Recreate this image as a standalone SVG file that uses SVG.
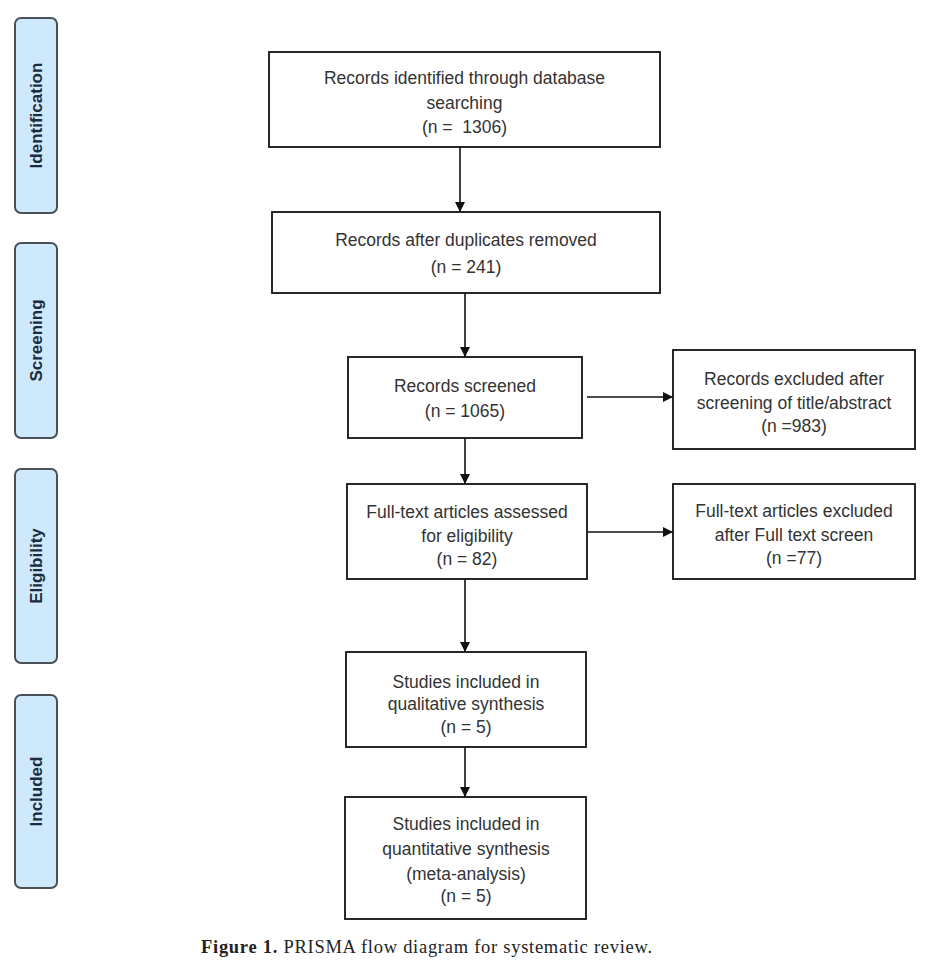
<svg xmlns="http://www.w3.org/2000/svg" width="934" height="972" viewBox="0 0 934 972">
<style>
.stage rect{fill:#cde9fb;stroke:#4a5058;stroke-width:2}
.stage text{font-family:"Liberation Sans",Arial,sans-serif;font-weight:bold;font-size:17px;fill:#1c2b40;text-anchor:middle}
.box rect{fill:#fff;stroke:#111;stroke-width:1.8}
.box text{font-family:"Liberation Sans",Arial,sans-serif;font-size:17.5px;fill:#333;text-anchor:middle}
.conn line{stroke:#111;stroke-width:1.6;fill:none}
.cap{font-family:"Liberation Serif","Times New Roman",serif;font-size:18.5px;fill:#222}
</style>
<defs>
<marker id="ah" viewBox="0 0 10 10" refX="10" refY="5" markerWidth="10" markerHeight="10" markerUnits="userSpaceOnUse" orient="auto">
<path d="M0,0 L10,5 L0,10 Z" fill="#111"/>
</marker>
</defs>
<rect width="934" height="972" fill="#fff"/>

<g id="stage-identification" class="stage">
<rect x="15" y="18" width="42" height="195" rx="6"/>
<text transform="translate(42,115.5) rotate(-90)">Identification</text>
</g>
<g id="stage-screening" class="stage">
<rect x="15" y="243" width="42" height="195" rx="6"/>
<text transform="translate(42,340.5) rotate(-90)">Screening</text>
</g>
<g id="stage-eligibility" class="stage">
<rect x="15" y="469" width="42" height="194" rx="6"/>
<text transform="translate(42,566) rotate(-90)">Eligibility</text>
</g>
<g id="stage-included" class="stage">
<rect x="15" y="695" width="42" height="193" rx="6"/>
<text transform="translate(42,791.5) rotate(-90)">Included</text>
</g>

<g id="identified" class="box">
<rect x="269" y="52" width="391" height="95"/>
<text x="464.5" y="84">Records identified through database</text>
<text x="464.5" y="109">searching</text>
<text x="464.5" y="133" xml:space="preserve">(n =  1306)</text>
</g>
<g id="deduplicated" class="box">
<rect x="272" y="212" width="388" height="81"/>
<text x="466" y="246">Records after duplicates removed</text>
<text x="466" y="273">(n = 241)</text>
</g>
<g id="screened" class="box">
<rect x="348" y="357" width="234" height="81"/>
<text x="465" y="392">Records screened</text>
<text x="465" y="417">(n = 1065)</text>
</g>
<g id="excluded-screen" class="box">
<rect x="673" y="350" width="242" height="99"/>
<text x="794" y="385">Records excluded after</text>
<text x="794" y="409">screening of title/abstract</text>
<text x="794" y="432">(n =983)</text>
</g>
<g id="fulltext" class="box">
<rect x="347" y="484" width="240" height="95"/>
<text x="467" y="518">Full-text articles assessed</text>
<text x="467" y="542">for eligibility</text>
<text x="467" y="565">(n = 82)</text>
</g>
<g id="excluded-fulltext" class="box">
<rect x="673" y="484" width="242" height="95"/>
<text x="794" y="517">Full-text articles excluded</text>
<text x="794" y="541">after Full text screen</text>
<text x="794" y="564">(n =77)</text>
</g>
<g id="qualitative" class="box">
<rect x="346" y="652" width="240" height="95"/>
<text x="466" y="688">Studies included in</text>
<text x="466" y="710">qualitative synthesis</text>
<text x="466" y="733">(n = 5)</text>
</g>
<g id="quantitative" class="box">
<rect x="345" y="797" width="241" height="122"/>
<text x="466" y="830">Studies included in</text>
<text x="466" y="855">quantitative synthesis</text>
<text x="466" y="880">(meta-analysis)</text>
<text x="466" y="902">(n = 5)</text>
</g>

<g id="connectors" class="conn">
<line x1="460" y1="147" x2="460" y2="212" marker-end="url(#ah)"/>
<line x1="465" y1="293" x2="465" y2="357" marker-end="url(#ah)"/>
<line x1="465" y1="438" x2="465" y2="484" marker-end="url(#ah)"/>
<line x1="465" y1="579" x2="465" y2="652" marker-end="url(#ah)"/>
<line x1="465" y1="747" x2="465" y2="797" marker-end="url(#ah)"/>
<line x1="587" y1="397" x2="673" y2="397" marker-end="url(#ah)"/>
<line x1="588" y1="532" x2="673" y2="532" marker-end="url(#ah)"/>
</g>

<text class="cap" x="201" y="953" textLength="451" lengthAdjust="spacing"><tspan font-weight="bold">Figure 1.</tspan> PRISMA flow diagram for systematic review.</text>
</svg>
